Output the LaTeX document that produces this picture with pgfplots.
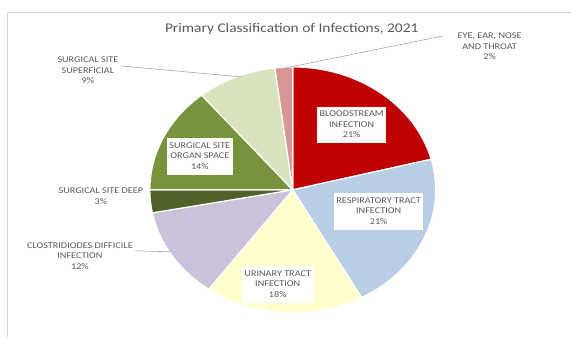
\documentclass[border=0pt]{standalone}
\usepackage{pgfplots}
\pgfplotsset{compat=1.18}
\usepackage{fontspec}
\setmainfont{Carlito}
\usepackage{graphicx}

\definecolor{cBlood}{HTML}{C00000}
\definecolor{cResp}{HTML}{B9CDE5}
\definecolor{cUrin}{HTML}{FFFFCC}
\definecolor{cCdiff}{HTML}{CCC1DA}
\definecolor{cDeep}{HTML}{4F6228}
\definecolor{cOrgan}{HTML}{77933C}
\definecolor{cSuper}{HTML}{D7E4BD}
\definecolor{cEye}{HTML}{D99694}
\definecolor{txt}{HTML}{595959}

% pie geometry (pixel-like units), values in percent
\def\cx{293}\def\cy{190}\def\rx{143}\def\ry{123}

% #1 = cumulative percent before slice, #2 = slice percent, #3 = colour
\newcommand{\slice}[3]{%
  \pgfmathsetmacro{\angA}{90-3.6*(#1+#2)}%
  \pgfmathsetmacro{\angB}{90-3.6*(#1)}%
  \edef\temp{\noexpand\addplot[fill=#3, draw=white, line width=1.2pt, domain=\angA:\angB, samples=80, variable=\noexpand\t, line join=round]
    ({\cx+\rx*cos(\noexpand\t)},{\cy-\ry*sin(\noexpand\t)}) -- (axis cs:\cx,\cy) -- cycle;}%
  \temp
}

\newcommand{\lab}[1]{\scalebox{1.16}[1]{\fontsize{8.8}{10.6}\selectfont\color{txt}\begin{tabular}{@{}c@{}}#1\end{tabular}}}

\begin{document}
\begin{tikzpicture}
\begin{axis}[
  x=1pt, y=1pt, y dir=reverse,
  xmin=0, xmax=571, ymin=0, ymax=337,
  hide axis, clip=false,
]
% canvas
\addplot[draw=none] coordinates {(0,0) (571,337)};
% chart frame
\addplot[draw=black!15, line width=1pt] coordinates {(8,337) (8,13) (571,13)};

% slices: Bloodstream 21, Respiratory 21, Urinary 18, C. diff 12,
% SS deep 3, SS organ space 14, SS superficial 9, Eye/ear/nose/throat 2
\slice{0}{21}{cBlood}
\slice{21}{21}{cResp}
\slice{42}{18}{cUrin}
\slice{60}{12}{cCdiff}
\slice{72}{3}{cDeep}
\slice{75}{14}{cOrgan}
\slice{89}{9}{cSuper}
\slice{98}{2}{cEye}

% leader lines
\addplot[draw=gray!70, line width=0.6pt] coordinates {(443,36) (286,68)};
\addplot[draw=gray!70, line width=0.6pt] coordinates {(121,66) (242,77)};
\addplot[draw=gray!70, line width=0.6pt] coordinates {(135,251) (170,252)};

% title
\node[text=txt] at (axis cs:292,29) {\scalebox{1.16}[1]{\fontsize{13.3}{16}\selectfont Primary Classification of Infections, 2021}};

% inside labels
\node[fill=white, inner sep=2.5pt] at (axis cs:352,125) {\lab{BLOODSTREAM\\INFECTION\\21\%}};
\node[fill=white, inner sep=2.5pt] at (axis cs:379,212) {\lab{RESPIRATORY TRACT\\INFECTION\\21\%}};
\node[fill=white, inner sep=2.5pt] at (axis cs:278,285) {\lab{URINARY TRACT\\INFECTION\\18\%}};
\node[fill=white, inner sep=2.5pt] at (axis cs:200,157) {\lab{SURGICAL SITE\\ORGAN SPACE\\14\%}};

% outside labels
\node at (axis cs:490,47) {\lab{EYE, EAR, NOSE\\AND THROAT\\2\%}};
\node at (axis cs:88,71) {\lab{SURGICAL SITE\\SUPERFICIAL\\9\%}};
\node at (axis cs:101,197) {\lab{SURGICAL SITE DEEP\\3\%}};
\node at (axis cs:80,257) {\lab{CLOSTRIDIODES DIFFICILE\\INFECTION\\12\%}};
\end{axis}
\end{tikzpicture}
\end{document}
